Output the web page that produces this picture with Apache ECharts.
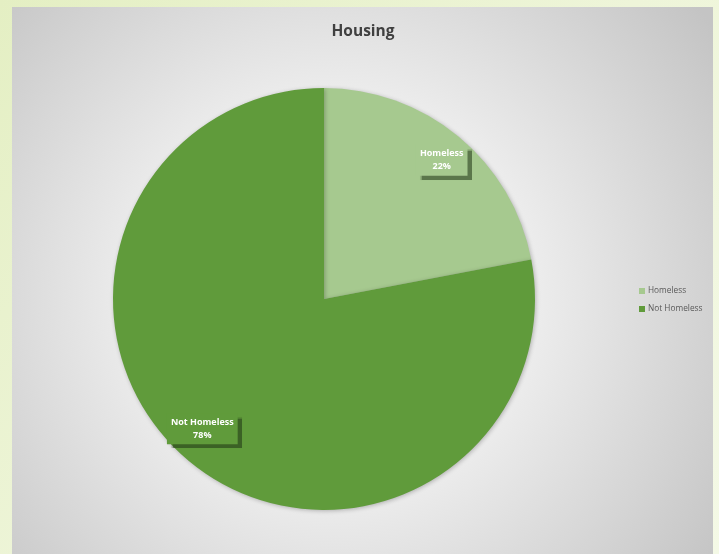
<!DOCTYPE html>
<html>
<head>
<meta charset="utf-8">
<script src="https://cdn.jsdelivr.net/npm/echarts@6/dist/echarts.min.js"></script>
<style>
  html, body { margin: 0; padding: 0; }
  body {
    width: 719px; height: 554px; overflow: hidden; position: relative;
    background: linear-gradient(135deg, #e4efc3 0%, #eef5d9 50%, #f4f9e6 100%);
  }
  #main { position: absolute; left: 12px; top: 7px; width: 701px; height: 547px; }
</style>
</head>
<body>
<div id="main"></div>
<script>
  // Housing data
  var categories = ['Homeless', 'Not Homeless'];
  var values = [22, 78];
  var colors = ['#a6c98f', '#609b3b'];

  var chart = echarts.init(document.getElementById('main'));

  var pieData = categories.map(function (name, i) {
    return { name: name, value: values[i], itemStyle: { color: colors[i] } };
  });
  // label layer, same values, invisible slices so labels sit near the rim
  var labelData = categories.map(function (name, i) {
    return {
      name: name, value: values[i],
      label: { backgroundColor: colors[i] }
    };
  });

  chart.setOption({
    backgroundColor: {
      type: 'radial', x: 0.46, y: 0.53, r: 0.85,
      colorStops: [
        { offset: 0, color: '#ffffff' },
        { offset: 0.3, color: '#f6f6f6' },
        { offset: 1, color: '#c4c4c4' }
      ]
    },
    title: {
      text: 'Housing', left: 346, top: 12, textAlign: 'center',
      textStyle: { fontFamily: 'Open Sans', fontWeight: 'bold', fontSize: 15.5, color: '#404040' }
    },
    legend: {
      orient: 'vertical', left: 622, top: 275,
      itemWidth: 6, itemHeight: 6, itemGap: 10, icon: 'rect',
      data: categories,
      textStyle: { fontFamily: 'Open Sans', fontSize: 8.3, color: '#595959', padding: [0, 0, 0, -2] }
    },
    series: [{
      type: 'pie',
      center: [312, 292],
      radius: [0, 211],
      startAngle: 90,
      clockwise: true,
      silent: true,
      label: { show: false },
      labelLine: { show: false },
      itemStyle: { shadowColor: 'rgba(0,0,0,0.25)', shadowBlur: 4, shadowOffsetX: 1, shadowOffsetY: 1 },
      data: pieData
    }, {
      type: 'pie',
      center: [312, 292],
      radius: [146, 211],
      startAngle: 90,
      clockwise: true,
      silent: true,
      itemStyle: { color: 'rgba(0,0,0,0)' },
      labelLine: { show: false },
      labelLayout: function (p) {
        return p.dataIndex === 1 ? { dx: -6, dy: -10 } : { dx: 2, dy: 1 };
      },
      label: {
        show: true, position: 'inside',
        formatter: '{b}\n{d}%',
        fontFamily: 'Open Sans', fontWeight: 'bold', fontSize: 9, lineHeight: 13,
        color: '#ffffff', align: 'center',
        padding: [2, 4, 3, 4],
        shadowColor: 'rgba(30,50,20,0.55)', shadowBlur: 1, shadowOffsetX: 4, shadowOffsetY: 4
      },
      data: labelData
    }]
  });
</script>
</body>
</html>
